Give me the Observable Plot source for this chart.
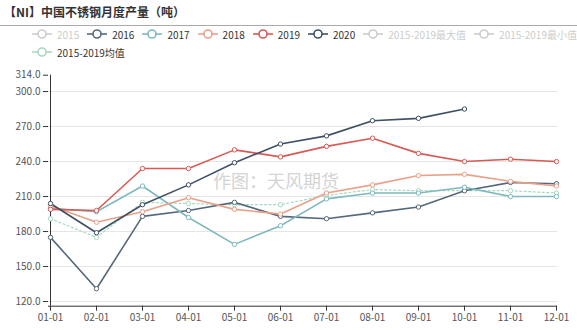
<!DOCTYPE html>
<html><head><meta charset="utf-8">
<script src="https://cdn.jsdelivr.net/npm/d3@7"></script>
<script src="https://cdn.jsdelivr.net/npm/@observablehq/plot@0.6"></script>
<style>
body{margin:0;background:#fff;font-family:"Noto Sans CJK SC",sans-serif;}
#wrap{position:relative;width:577px;height:330px;overflow:hidden;background:#fff;}
#title{position:absolute;left:4px;top:4px;font-size:12px;font-weight:bold;color:#333;line-height:16px;white-space:nowrap;}
#hr{position:absolute;left:0;top:25px;width:577px;height:1px;background:#aaa;}
.row{position:absolute;left:32px;display:flex;align-items:center;gap:8px;height:14px;}
.item{display:flex;align-items:center;gap:5px;font-size:10px;color:#333;white-space:nowrap;}
.item.off{color:#ccc;}
#wm{position:absolute;left:213px;top:168px;font-size:18px;color:#d4d4d4;white-space:nowrap;line-height:24px;}
#chart{position:absolute;left:0;top:0;}
</style></head>
<body>
<div id="wrap">
  <div id="wm">作图：天风期货</div>
  <div id="chart"></div>
  <div id="title">【NI】中国不锈钢月度产量（吨）</div>
  <div id="hr"></div>
  <div class="row" id="row1" style="top:27px"></div>
  <div class="row" id="row2" style="top:45px"></div>
</div>
<script>
const months = ["01-01","02-01","03-01","04-01","05-01","06-01","07-01","08-01","09-01","10-01","11-01","12-01"];
const yTicks = [120,150,180,210,240,270,300,314];
const gridTicks = [120,150,180,210,240,270,300];
const s2016 = [175,131,193,198,205,193,191,196,201,215,222,221];
const s2017 = [200,197,219,192,169,185,208,213,213,218,210,210];
const s2018 = [202,188,197,209,199,195,213,220,228,229,223,219];
const s2019 = [199,198,234,234,250,244,253,260,247,240,242,240];
const s2020 = [204,179,203,220,239,255,262,275,277,285];
const sAvg  = [191,175,205,204,203,203,211,216,215,215,215,213];

const seriesNames = ["2016","2017","2018","2019","2020"];
const seriesColors = ["#56697c","#7fb9be","#e9a189","#d85a55","#3f5064"];
const seriesValues = [s2016,s2017,s2018,s2019,s2020];
const avgName = "2015-2019均值";
const avgColor = "#a6d9c0";

const rows = seriesNames.flatMap((n,k) => seriesValues[k].map((v,i) => ({month: months[i], value: v, series: n})));
const avgRows = sAvg.map((v,i) => ({month: months[i], value: v, series: avgName}));

const plot = Plot.plot({
  width: 577,
  height: 330,
  marginLeft: 48,
  marginRight: 20,
  marginTop: 74.7,
  marginBottom: 24.3,
  style: {background: "transparent", fontFamily: "'Noto Sans CJK SC', sans-serif", fontSize: "10px", overflow: "visible"},
  x: {type: "point", domain: months, padding: 0},
  y: {domain: [116, 314]},
  color: {domain: [...seriesNames, avgName], range: [...seriesColors, avgColor]},
  marks: [
    Plot.ruleY(gridTicks, {stroke: "#e6e6e6", strokeWidth: 1}),
    Plot.ruleX([months[0]], {stroke: "#333"}),
    Plot.ruleY([116], {stroke: "#333"}),
    Plot.axisY({ticks: yTicks, tickFormat: d => d.toFixed(1), tickSize: 5, tickPadding: 3, stroke: "#333", fill: "#555", fontSize: 10, label: null}),
    Plot.axisX({ticks: months, tickSize: 5, tickPadding: 3, stroke: "#333", fill: "#555", fontSize: 10, label: null}),
    Plot.line(avgRows, {x: "month", y: "value", stroke: "series", strokeWidth: 1.2, strokeDasharray: "2,2.5"}),
    Plot.dot(avgRows, {x: "month", y: "value", stroke: "series", fill: "white", r: 2.2, strokeWidth: 1}),
    Plot.line(rows, {x: "month", y: "value", z: "series", stroke: "series", strokeWidth: 1.6}),
    Plot.dot(rows, {x: "month", y: "value", stroke: "series", fill: "white", r: 2.2, strokeWidth: 1})
  ]
});
document.getElementById("chart").appendChild(plot);

function icon(color){
  return `<svg width="20" height="10" viewBox="0 0 20 10"><line x1="0" y1="5" x2="20" y2="5" stroke="${color}" stroke-width="1.6"/><circle cx="10" cy="5" r="4" fill="white" stroke="${color}" stroke-width="1.6"/></svg>`;
}
const legend1 = [
  {name: "2015", color: "#ccc", off: true},
  ...seriesNames.map((n,k) => ({name: n, color: seriesColors[k], off: false})),
  {name: "2015-2019最大值", color: "#ccc", off: true},
  {name: "2015-2019最小值", color: "#ccc", off: true}
];
const legend2 = [{name: avgName, color: avgColor, off: false}];
function fill(id, items){
  document.getElementById(id).innerHTML = items.map(it =>
    `<div class="item${it.off ? " off" : ""}">${icon(it.color)}<span>${it.name}</span></div>`).join("");
}
fill("row1", legend1);
fill("row2", legend2);
</script>
</body></html>
